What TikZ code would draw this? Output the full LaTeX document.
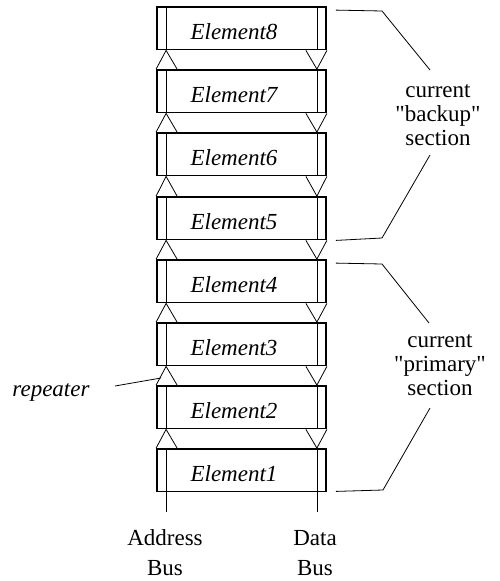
\documentclass[tikz,border=0pt]{standalone}
\usepackage{fontspec}
\setmainfont{Liberation Serif}[Ligatures=TeXOff]
\usetikzlibrary{calc}
\tikzset{
  elem/.style={draw, line width=1.8pt, minimum width=169pt, minimum height=42.5pt, inner sep=0pt},
  thinline/.style={line width=0.8pt},
  lbl/.style={font=\fontsize{23}{24}\selectfont, inner sep=0pt},
  etext/.style={font=\fontsize{23}{24}\selectfont\itshape, inner sep=0pt, anchor=base},
}
\begin{document}
\begin{tikzpicture}[x=1pt,y=-1pt]
\useasboundingbox (0,0) rectangle (500,581);
% element boxes
\foreach \i/\t in {8/7,7/70,6/133,5/197,4/260,3/323,2/386,1/449}{
  \node[elem] (e\i) at (241.5,\t+21.25) {};
  \node[etext] (t\i) at (234,\t+32) {Element\i};
  \draw[thinline] ($(e\i.north west)+(10,0)$) -- ($(e\i.south west)+(10,0)$);
  \draw[thinline] ($(e\i.north east)+(-10,0)$) -- ($(e\i.south east)+(-10,0)$);
}
% repeaters
\foreach \i in {1,...,7}{
  \pgfmathtruncatemacro{\j}{\i+1}
  \draw[thinline] (e\i.north west) -- ($(e\j.south west)+(10,0)$) -- ($(e\i.north west)+(21,0)$);
  \draw[thinline] (e\j.south east) -- ($(e\i.north east)+(-10,0)$) -- ($(e\j.south east)+(-21,0)$);
}
% bus lines below
\coordinate (ab) at ($(e1.south west)+(10,20)$);
\coordinate (db) at ($(e1.south east)+(-10,20)$);
\draw[thinline] ($(e1.south west)+(10,0)$) -- (ab);
\draw[thinline] ($(e1.south east)+(-10,0)$) -- (db);
\node[lbl, align=center, font=\fontsize{23}{30}\selectfont, anchor=base] (addr) at (165,575) {Address\\Bus};
\node[lbl, align=center, font=\fontsize{23}{30}\selectfont, anchor=base] (data) at (315,575) {Data\\Bus};
% repeater label
\node[lbl, font=\fontsize{23}{24}\selectfont\itshape, anchor=base] (rep) at (51,396) {repeater};
\coordinate (repS) at (115,386);
\coordinate (repE) at (161,378);
\draw[thinline] (repS) -- (repE);
% backup section
\node[lbl, align=center, anchor=base] (bk) at (438,145) {current\\"backup"\\section};
\coordinate (bkA) at ($(e8.north east)+(9,4)$);
\coordinate (bkB) at (382,11);
\coordinate (bkC) at (430,70);
\coordinate (bkD) at (430,155);
\coordinate (bkE) at (382,238);
\coordinate (bkF) at ($(e5.south east)+(9,0)$);
\draw[thinline] (bkA) -- (bkB) -- (bkC);
\draw[thinline] (bkD) -- (bkE) -- (bkF);
% primary section
\node[lbl, align=center, anchor=base] (pr) at (440,395) {current\\"primary"\\section};
\coordinate (prA) at ($(e4.north east)+(9,4)$);
\coordinate (prB) at (382,264);
\coordinate (prC) at (429,323);
\coordinate (prD) at (430,408);
\coordinate (prE) at (383,490);
\coordinate (prF) at ($(e1.south east)+(9,-1)$);
\draw[thinline] (prA) -- (prB) -- (prC);
\draw[thinline] (prD) -- (prE) -- (prF);
\end{tikzpicture}
\end{document}
